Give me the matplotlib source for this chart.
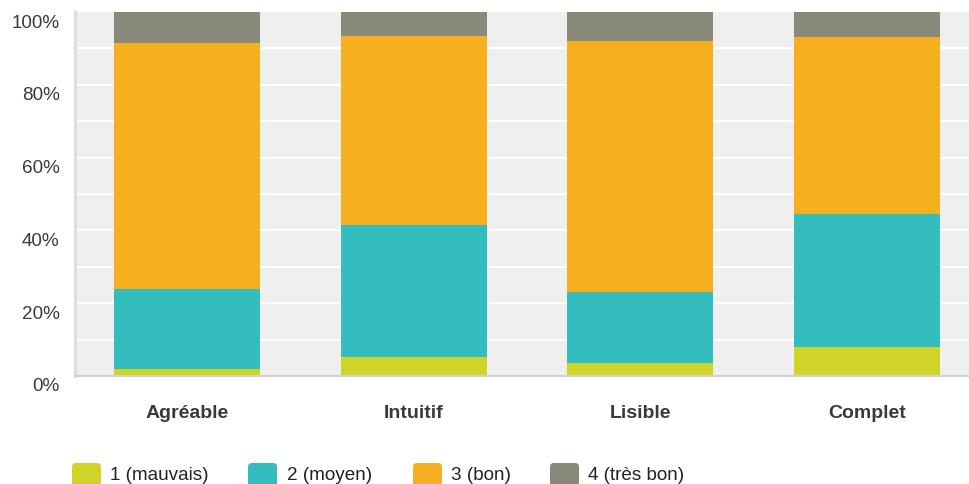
import matplotlib
matplotlib.use("Agg")
import matplotlib.pyplot as plt
from matplotlib.patches import FancyBboxPatch
from matplotlib.transforms import ScaledTranslation
import numpy as np

plt.rcParams['font.family'] = ['Liberation Sans', 'DejaVu Sans']

# Data: share of answers per criterion (%)
categories = ["Agréable", "Intuitif", "Lisible", "Complet"]
series_labels = ["1 (mauvais)", "2 (moyen)", "3 (bon)", "4 (très bon)"]
mauvais = [1.9, 5.2, 3.7, 8.1]
moyen = [22.0, 36.4, 19.5, 36.5]
bon = [67.7, 51.8, 68.8, 48.4]
tres_bon = [8.4, 6.6, 8.0, 7.0]
yticks = [0, 20, 40, 60, 80, 100]
ytick_labels = ["0%", "20%", "40%", "60%", "80%", "100%"]

colors = ["#d0d427", "#33bdbf", "#f6af1f", "#89897a"]

W, H = 969, 485
fig = plt.figure(figsize=(W / 100, H / 100), dpi=100)
ax = fig.add_axes([75 / W, 1 - 377 / H, (969 - 75) / W, (377 - 13) / H])
ax.set_facecolor("#efefef")

x = np.arange(len(categories))
bottom = np.zeros(len(categories))
for vals, col in zip([mauvais, moyen, bon, tres_bon], colors):
    ax.bar(x, vals, width=0.644, bottom=bottom, color=col, zorder=3, linewidth=0)
    bottom += np.array(vals)

ax.set_xlim(-0.494, 3.449)
ax.set_ylim(0, 100)

# white horizontal grid every 10 %
for g in range(10, 100, 10):
    ax.axhline(g, color="white", lw=1.6, zorder=1)

ax.set_yticks(yticks)
ax.set_yticklabels(ytick_labels, fontsize=13.6, color="#3a3a3a")
ax.set_xticks(x)
ax.set_xticklabels(categories, fontsize=14, fontweight="bold", color="#3a3a3a")
ax.tick_params(axis="y", length=0, pad=11)
ax.tick_params(axis="x", length=0, pad=20.5)
off = ScaledTranslation(0, -0.08, fig.dpi_scale_trans)
for lab in ax.get_yticklabels():
    lab.set_transform(lab.get_transform() + off)

for s in ["top", "right"]:
    ax.spines[s].set_visible(False)
ax.spines["left"].set_color("#dedede")
ax.spines["left"].set_linewidth(2.4)
ax.spines["bottom"].set_color("#d2d2d2")
ax.spines["bottom"].set_linewidth(1.5)
ax.spines["bottom"].set_zorder(4)

# legend drawn in figure pixel space
sq_x = [72, 248, 413, 550]
tx_x = [110, 287, 451, 588]
for sx, tx, col, lab in zip(sq_x, tx_x, colors, series_labels):
    p = FancyBboxPatch((sx / W, 1 - 488 / H), 29 / W, 24 / H,
                       boxstyle="round,pad=0,rounding_size=0.004",
                       transform=fig.transFigure, facecolor=col, edgecolor="none",
                       mutation_aspect=W / H)
    fig.patches.append(p)
    fig.text(tx / W, 1 - 476 / H, lab, fontsize=13.6, color="#222222",
             va="center", ha="left")

fig.savefig("out.png", dpi=100)
